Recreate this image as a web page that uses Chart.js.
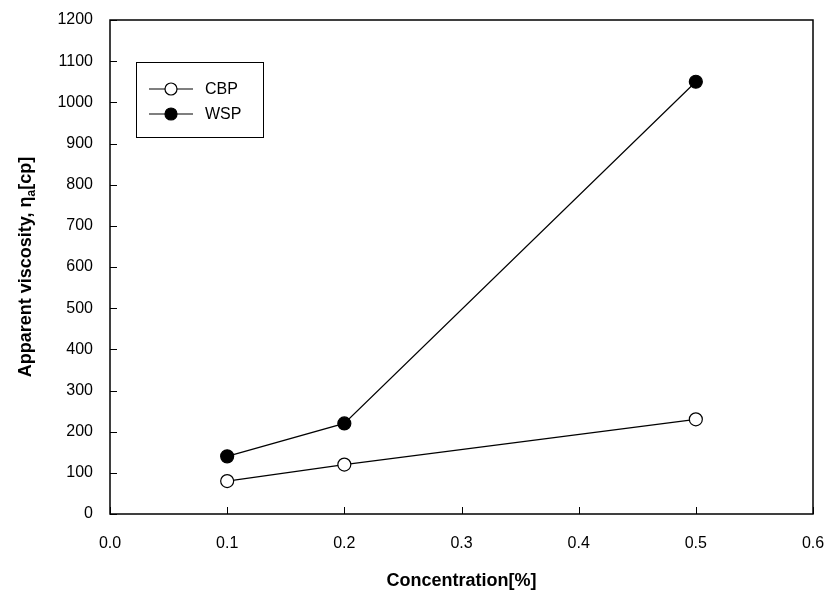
<!DOCTYPE html>
<html>
<head>
<meta charset="utf-8">
<script src="https://cdn.jsdelivr.net/npm/chart.js@4.4.0/dist/chart.umd.min.js"></script>
<style>
  html, body { margin: 0; padding: 0; background: #fff; }
  #wrap { width: 832px; height: 596px; }
</style>
</head>
<body>
<div id="wrap"><canvas id="viscChart" width="832" height="596"></canvas></div>
<script>
const concentration = [0.1, 0.2, 0.5];
const cbpValues = [80, 120, 230];
const wspValues = [140, 220, 1050];
const xTicks = [0.0, 0.1, 0.2, 0.3, 0.4, 0.5, 0.6];
const yTicks = [0, 100, 200, 300, 400, 500, 600, 700, 800, 900, 1000, 1100, 1200];

const FONT = '"Liberation Sans", Arial, sans-serif';

function toPoints(xs, ys) {
  return xs.map((x, i) => ({ x: x, y: ys[i] }));
}

// frame, inward ticks, legend and the y title with subscript
const decorations = {
  id: 'decorations',
  afterDraw(chart) {
    const c = chart.ctx;
    const a = chart.chartArea;
    const xs = chart.scales.x, ys = chart.scales.y;
    c.save();
    c.strokeStyle = '#000';
    c.lineWidth = 1.5;
    c.strokeRect(a.left, a.top, a.right - a.left, a.bottom - a.top);

    c.lineWidth = 1;
    c.beginPath();
    xTicks.forEach(v => {
      const px = Math.round(xs.getPixelForValue(v)) + 0.5;
      c.moveTo(px, a.bottom);
      c.lineTo(px, a.bottom - 7);
    });
    yTicks.forEach(v => {
      const py = Math.round(ys.getPixelForValue(v)) + 0.5;
      c.moveTo(a.left, py);
      c.lineTo(a.left + 7, py);
    });
    c.stroke();

    // legend
    const lx = 136, ly = 62, lw = 127, lh = 75;
    c.lineWidth = 1;
    c.strokeRect(lx + 0.5, ly + 0.5, lw, lh);
    c.font = '16px ' + FONT;
    c.textBaseline = 'middle';
    c.textAlign = 'left';
    chart.data.datasets.forEach((ds, i) => {
      const yy = 89 + i * 25;
      c.beginPath();
      c.lineWidth = 1.2;
      c.moveTo(149, yy);
      c.lineTo(193, yy);
      c.stroke();
      c.beginPath();
      c.arc(171, yy, 6, 0, Math.PI * 2);
      c.fillStyle = ds.pointBackgroundColor;
      c.fill();
      c.lineWidth = 1.2;
      c.stroke();
      c.fillStyle = '#000';
      c.fillText(ds.label, 205, yy + 1);
    });

    // y axis title
    c.translate(26, (a.top + a.bottom) / 2);
    c.rotate(-Math.PI / 2);
    const big = 'bold 18px ' + FONT, small = 'bold 12px ' + FONT;
    const p1 = 'Apparent viscosity, \u03b7', p2 = 'a', p3 = '[cp]';
    c.font = big; const w1 = c.measureText(p1).width, w3 = c.measureText(p3).width;
    c.font = small; const w2 = c.measureText(p2).width;
    let x0 = -(w1 + w2 + w3) / 2;
    c.fillStyle = '#000';
    c.textAlign = 'left';
    c.textBaseline = 'middle';
    c.font = big; c.fillText(p1, x0, 0);
    c.font = small; c.fillText(p2, x0 + w1, 6);
    c.font = big; c.fillText(p3, x0 + w1 + w2, 0);
    c.restore();
  }
};

const ctx = document.getElementById('viscChart').getContext('2d');

const viscChart = new Chart(ctx, {
  type: 'scatter',
  data: {
    datasets: [{
      label: 'CBP',
      data: toPoints(concentration, cbpValues),
      showLine: true,
      borderColor: '#000',
      borderWidth: 1.2,
      pointBackgroundColor: '#fff',
      pointBorderColor: '#000',
      pointBorderWidth: 1.2,
      pointRadius: 6.5
    }, {
      label: 'WSP',
      data: toPoints(concentration, wspValues),
      showLine: true,
      borderColor: '#000',
      borderWidth: 1.2,
      pointBackgroundColor: '#000',
      pointBorderColor: '#000',
      pointBorderWidth: 1.2,
      pointRadius: 6.5
    }]
  },
  options: {
    responsive: false,
    animation: false,
    layout: { padding: { left: 0, top: 20, right: 19, bottom: 0 } },
    plugins: {
      legend: { display: false },
      tooltip: { enabled: false }
    },
    scales: {
      x: {
        type: 'linear',
        min: 0,
        max: 0.6,
        afterBuildTicks: scale => { scale.ticks = xTicks.map(v => ({ value: v })); },
        afterFit: scale => {
          scale.height = 82;
          scale.paddingLeft = 0;
          scale.paddingRight = 0;
        },
        grid: { display: false },
        border: { display: false },
        ticks: {
          color: '#000',
          font: { family: FONT, size: 16 },
          padding: 12,
          callback: v => v.toFixed(1)
        },
        title: {
          display: true,
          text: 'Concentration[%]',
          color: '#000',
          font: { family: FONT, size: 18, weight: 'bold' },
          padding: { top: 18 }
        }
      },
      y: {
        min: 0,
        max: 1200,
        afterBuildTicks: scale => { scale.ticks = yTicks.map(v => ({ value: v })); },
        afterFit: scale => {
          scale.width = 110;
          scale.paddingTop = 0;
          scale.paddingBottom = 0;
        },
        grid: { display: false },
        border: { display: false },
        ticks: {
          color: '#000',
          font: { family: FONT, size: 16 },
          padding: 9,
          callback: v => String(v)
        }
      }
    }
  },
  plugins: [decorations]
});
</script>
</body>
</html>
